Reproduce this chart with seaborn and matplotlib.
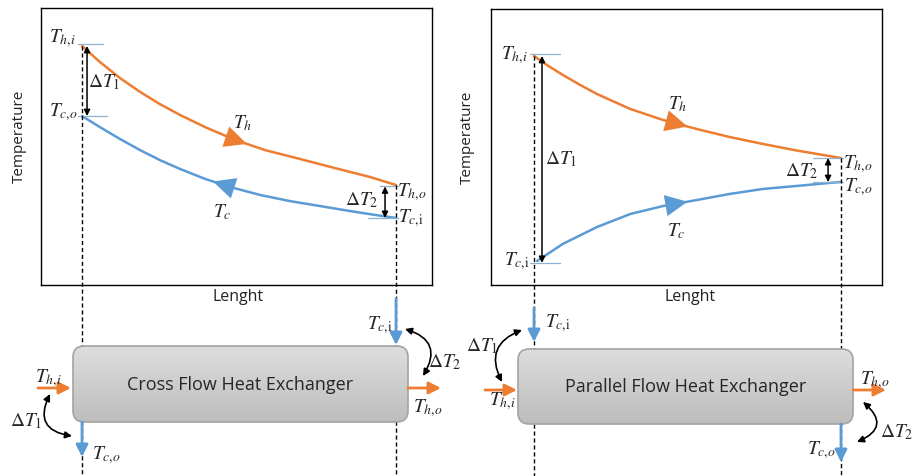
import numpy as np
import pandas as pd
import matplotlib
matplotlib.use('Agg')
import matplotlib.pyplot as plt
from matplotlib.patches import FancyBboxPatch, ArrowStyle
from matplotlib.colors import LinearSegmentedColormap
import seaborn as sns

# values
# length: 0 = inlet, 1 = outlet ; temperature: % of the axis height
cross_len_h = [0, 0.057, 0.121, 0.185, 0.248, 0.312, 0.392, 0.487, 0.583, 0.694, 0.806, 0.917, 1.0]
cross_temp_h = [86.3, 80.5, 74.7, 69.7, 65.3, 61.4, 57.0, 52.4, 48.7, 45.5, 42.2, 39.0, 36.1]
cross_len_c = [0, 0.057, 0.121, 0.185, 0.248, 0.312, 0.392, 0.471, 0.567, 0.662, 0.758, 0.854, 0.933, 1.0]
cross_temp_c = [61.0, 57.0, 52.7, 48.7, 45.1, 41.9, 38.3, 35.4, 32.5, 30.3, 28.5, 26.7, 25.3, 24.2]

par_len_h = [0, 0.042, 0.094, 0.150, 0.205, 0.313, 0.420, 0.531, 0.638, 0.746, 0.857, 0.964, 1.0]
par_temp_h = [83.0, 79.7, 76.1, 72.5, 69.2, 63.8, 59.8, 56.5, 53.6, 51.1, 48.7, 46.7, 46.0]
par_len_c = [0.01, 0.094, 0.205, 0.313, 0.420, 0.531, 0.638, 0.746, 0.857, 0.964, 1.0]
par_temp_c = [8.7, 14.9, 21.0, 25.7, 28.6, 30.8, 33.0, 34.8, 35.9, 37.0, 37.3]

ORANGE = '#ED7D31'
BLUE = '#5B9BD5'
TICK = '#8fb3d3'
MS = 14  # math label size

sns.set_style('white')
plt.rcParams['font.family'] = ['Open Sans', 'DejaVu Sans']
plt.rcParams['mathtext.fontset'] = 'stix'

fig = plt.figure(figsize=(9.15, 4.77), dpi=100)
ax1 = fig.add_axes([41 / 915, 191 / 477, 391 / 915, 277 / 477])
ax2 = fig.add_axes([491 / 915, 191 / 477, 391 / 915, 276 / 477])
ov = fig.add_axes([0, 0, 1, 1], zorder=5)
ov.patch.set_alpha(0)

THI = r'$T_{h{,}i}$'
THO = r'$T_{h{,}o}$'
TCI = r'$T_{c{,}\mathrm{i}}$'
TCO = r'$T_{c{,}o}$'


def curves(ax, lh, th, lc, tc):
    df = pd.concat([pd.DataFrame({'Lenght': lh, 'Temperature': th, 'fluid': 'hot'}),
                    pd.DataFrame({'Lenght': lc, 'Temperature': tc, 'fluid': 'cold'})])
    sns.lineplot(data=df, x='Lenght', y='Temperature', hue='fluid', sort=False,
                 palette={'hot': ORANGE, 'cold': BLUE}, legend=False, lw=1.8, ax=ax)


def head(ax, l, t, at, back, color):
    ax.annotate('', xy=(at, np.interp(at, l, t)), xytext=(at - back, np.interp(at - back, l, t)),
                arrowprops=dict(arrowstyle=ArrowStyle('-|>', head_length=0.5, head_width=0.24),
                                mutation_scale=32, color=color, lw=0, shrinkA=0, shrinkB=0))


def label(ax, text, xy, off, ha='center'):
    ax.annotate(text, xy=xy, xytext=off, textcoords='offset pixels', ha=ha, va='center',
                fontsize=MS)


def dt_arrow(ax, x, t0, t1):
    ax.annotate('', xy=(x, t0), xytext=(x, t1),
                arrowprops=dict(arrowstyle='<|-|>', color='k', lw=1.1, mutation_scale=9,
                                shrinkA=0, shrinkB=0))


def tick(ax, a, b, t):
    ax.plot([a, b], [t, t], color=TICK, lw=0.9)


def frame(ax, xlim, ylab_x, xlab_x):
    ax.set_xlim(*xlim)
    ax.set_ylim(0, 100)
    ax.set_xticks([])
    ax.set_yticks([])
    for s in ax.spines.values():
        s.set_color('k')
        s.set_linewidth(1.0)
    ax.set_ylabel('Temperature', fontsize=11, color='#222222')
    ax.set_xlabel('Lenght', fontsize=11.5, color='#222222')
    ax.yaxis.set_label_coords(ylab_x, 0.54)
    ax.xaxis.set_label_coords(xlab_x, -0.012)


# ---- cross flow panel
curves(ax1, cross_len_h, cross_temp_h, cross_len_c, cross_temp_c)
frame(ax1, (-0.1306, 1.1146), -0.036, 0.504)
thi, tho = cross_temp_h[0], cross_temp_h[-1]
tco, tci = cross_temp_c[0], cross_temp_c[-1]
tick(ax1, -0.013, 0.067, thi + 0.8)
tick(ax1, -0.013, 0.08, tco)
tick(ax1, 0.95, 1.005, tho - 0.5)
tick(ax1, 0.91, 1.005, tci)
dt_arrow(ax1, 0.016, thi, tco)
dt_arrow(ax1, 0.965, tho - 0.5, tci)
label(ax1, r'$\Delta T_1$', (0.016, (thi + tco) / 2), (1, 0), ha='left')
label(ax1, r'$\Delta T_2$', (0.965, (tho + tci) / 2), (-7, 2), ha='right')
head(ax1, cross_len_h, cross_temp_h, 0.525, 0.02, ORANGE)
head(ax1, cross_len_c, cross_temp_c, 0.417, -0.02, BLUE)
label(ax1, r'$T_h$', (0.525, np.interp(0.525, cross_len_h, cross_temp_h)), (-4, 22))
label(ax1, r'$T_c$', (0.417, np.interp(0.417, cross_len_c, cross_temp_c)), (9, -30))
label(ax1, THI, (0, thi), (-20, 9))
label(ax1, TCO, (0, tco), (-19, 5))
label(ax1, THO, (1, tho), (16, -6))
label(ax1, TCI, (1, tci), (15, 1))

# ---- parallel flow panel
curves(ax2, par_len_h, par_temp_h, par_len_c, par_temp_c)
frame(ax2, (-0.1401, 1.1336), -0.041, 0.509)
phi, pho = par_temp_h[0], par_temp_h[-1]
pci, pco = par_temp_c[0], par_temp_c[-1]
tick(ax2, -0.013, 0.085, phi + 0.8)
tick(ax2, -0.013, 0.085, pci - 0.7)
tick(ax2, 0.909, 1.007, pho)
tick(ax2, 0.909, 1.007, pco)
dt_arrow(ax2, 0.026, phi, pci - 0.7)
dt_arrow(ax2, 0.958, pho, pco)
label(ax2, r'$\Delta T_1$', (0.026, (phi + pci) / 2), (3, 0), ha='left')
label(ax2, r'$\Delta T_2$', (0.958, (pho + pco) / 2), (-10, 0), ha='right')
head(ax2, par_len_h, par_temp_h, 0.50, 0.02, ORANGE)
head(ax2, par_len_c, par_temp_c, 0.50, 0.02, BLUE)
label(ax2, r'$T_h$', (0.50, np.interp(0.50, par_len_h, par_temp_h)), (-10, 23))
label(ax2, r'$T_c$', (0.50, np.interp(0.50, par_len_c, par_temp_c)), (-11, -28))
label(ax2, THI, (0, phi), (-20, 2))
label(ax2, TCI, (0, pci), (-17, 1))
label(ax2, THO, (1, pho), (17, -5))
label(ax2, TCO, (1, pco), (17, -4))


# ---- overlay in pixel coordinates (y down)
def to_ov(ax, l, t):
    x, y = ax.transData.transform((l, t))
    return x, 477 - y


dash = dict(color='k', lw=1.0, ls=(0, (3, 2)), zorder=1)
for ax, th0, th1 in [(ax1, thi, tho), (ax2, phi, pho)]:
    for l, t in [(0, th0), (1, th1)]:
        x, y = to_ov(ax, l, t)
        ov.plot([x, x], [y, 477], **dash)

gray = LinearSegmentedColormap.from_list('g', ['#dddddd', '#bdbdbd'])


def exchanger(x0, y0, w, h, text):
    box = FancyBboxPatch((x0, y0), w, h, boxstyle='round,pad=0,rounding_size=11',
                         fc='none', ec='#a3a3a3', lw=1.2, zorder=3)
    ov.add_patch(box)
    im = ov.imshow(np.linspace(0, 1, 100).reshape(-1, 1), cmap=gray, aspect='auto',
                   extent=(x0, x0 + w, y0 + h, y0), zorder=2)
    im.set_clip_path(box)
    ov.text(x0 + w / 2, y0 + h / 2, text, ha='center', va='center', fontsize=13,
            color='#262626', zorder=4)


def flow(p0, p1, color):
    ov.annotate('', xy=p1, xytext=p0, zorder=4,
                arrowprops=dict(arrowstyle=ArrowStyle('-|>', head_length=0.6, head_width=0.3),
                                color=color, lw=2, mutation_scale=12, shrinkA=0, shrinkB=0))


def bend(p0, p1, rad):
    ov.annotate('', xy=p1, xytext=p0, zorder=4,
                arrowprops=dict(arrowstyle='<|-|>', color='k', lw=1.2, mutation_scale=10,
                                shrinkA=0, shrinkB=0, connectionstyle='arc3,rad=%s' % rad))


def txt(x, y, s, ha='center'):
    ov.text(x, y, s, ha=ha, va='center', fontsize=MS, zorder=4)


# cross flow exchanger
xl0, _ = to_ov(ax1, 0, 0)
xl1, _ = to_ov(ax1, 1, 0)
exchanger(73, 347, 335, 76, 'Cross Flow Heat Exchanger')
flow((38, 389), (71, 389), ORANGE)
flow((408, 389), (441, 389), ORANGE)
flow((xl1, 300), (xl1, 346), BLUE)
flow((xl0, 423), (xl0, 458), BLUE)
bend((50, 395), (72, 437), 0.68)
bend((405, 330), (423, 377), -0.64)
txt(48, 378, THI)
txt(428, 408, THO)
txt(380, 325, TCI)
txt(106, 455, TCO)
txt(26, 421, r'$\Delta T_1$')
txt(445, 362, r'$\Delta T_2$')

# parallel flow exchanger
xr0, _ = to_ov(ax2, 0, 0)
xr1, _ = to_ov(ax2, 1, 0)
exchanger(518, 350, 335, 75, 'Parallel Flow Heat Exchanger')
flow((485, 391), (517, 391), ORANGE)
flow((853, 391), (886, 391), ORANGE)
flow((xr0, 309), (xr0, 343), BLUE)
flow((xr1, 425), (xr1, 463), BLUE)
bend((522, 331), (502, 383), 0.55)
bend((863, 403), (857, 443), -0.8)
txt(558, 323, TCI)
txt(502, 401, THI)
txt(875, 380, THO)
txt(821, 450, TCO)
txt(482, 346, r'$\Delta T_1$')
txt(913, 432, r'$\Delta T_2$', ha='right')

ov.set_xlim(0, 915)
ov.set_ylim(477, 0)
ov.axis('off')

fig.savefig('out.png', dpi=100)
